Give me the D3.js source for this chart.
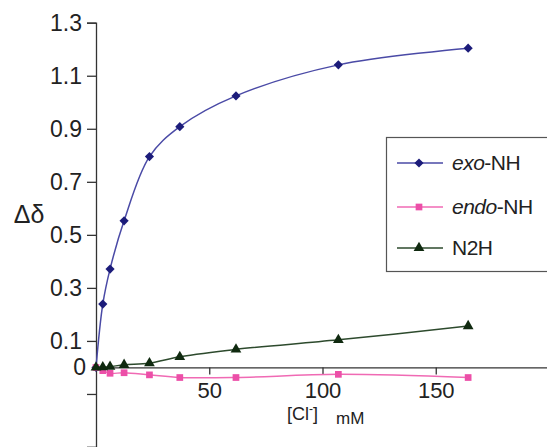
<!DOCTYPE html>
<html>
<head>
<meta charset="utf-8">
<script src="https://cdn.jsdelivr.net/npm/d3@7"></script>
<style>
body{margin:0;background:#fff;}
svg{display:block;font-family:"Liberation Sans",Arial,sans-serif;}
</style>
</head>
<body>
<div id="chart"></div>
<script>
var w=547;
var h=447;

// data
var conc=[0,3,6.2,12.4,23.6,37,61.8,107,164.3];
var exoNH=[0,0.239,0.371,0.553,0.795,0.908,1.024,1.141,1.204];
var endoNH=[0,-0.012,-0.022,-0.02,-0.028,-0.038,-0.038,-0.026,-0.038];
var n2h=[0,0.001,0.003,0.01,0.016,0.04,0.068,0.104,0.156];
var yTicks=[-0.3,-0.1,0.1,0.3,0.5,0.7,0.9,1.1,1.3];
var xTicks=[50,100,150];

var svg=d3.select("#chart")
  .append("svg")
  .attr("width",w)
  .attr("height",h);

var x=d3.scaleLinear().domain([0,200]).range([96,549]);
var y=d3.scaleLinear().domain([-0.3,1.3]).range([447,22.7]);

// y axis
var yAxis=d3.axisLeft(y)
  .tickValues(yTicks)
  .tickSize(9)
  .tickPadding(5)
  .tickFormat(function(d){return d>0?d3.format(".1f")(d):"";});
var gy=svg.append("g")
  .attr("transform","translate("+x(0)+",0)")
  .call(yAxis);
gy.select(".domain").attr("stroke","#333").attr("stroke-width",1.3);
gy.selectAll(".tick line").attr("stroke","#333").attr("stroke-width",1.3);
gy.selectAll(".tick text").attr("font-size",23).attr("fill","#222")
  .attr("font-family","Liberation Sans, Arial, sans-serif");

svg.append("text")
  .attr("x",86).attr("y",y(0)+8)
  .attr("text-anchor","end")
  .attr("font-size",23).attr("fill","#222")
  .text("0");

// x axis
var xAxis=d3.axisBottom(x)
  .tickValues(xTicks)
  .tickSize(7)
  .tickPadding(8)
  .tickSizeOuter(0);
var gx=svg.append("g")
  .attr("transform","translate(0,"+y(0)+")")
  .call(xAxis);
gx.select(".domain").attr("stroke","#333").attr("stroke-width",1.3);
gx.selectAll(".tick line").attr("stroke","#333").attr("stroke-width",1.3);
gx.selectAll(".tick text").attr("font-size",22).attr("fill","#222")
  .attr("font-family","Liberation Sans, Arial, sans-serif");

// axis titles
svg.append("text")
  .attr("x",29).attr("y",223)
  .attr("text-anchor","middle")
  .attr("font-size",25).attr("fill","#222")
  .text("\u0394\u03b4");

var xl=svg.append("text")
  .attr("x",287).attr("y",420)
  .attr("font-size",18).attr("fill","#222");
xl.append("tspan").text("[Cl");
xl.append("tspan").attr("dy",-7).attr("font-size",12).text("-");
xl.append("tspan").attr("dy",7).text("]");
svg.append("text")
  .attr("x",336).attr("y",424)
  .attr("font-size",17).attr("fill","#222")
  .text("mM");

// series
var diamond=d3.symbol().type(d3.symbolSquare).size(40);
var series=[
  {name:"exo",rest:"-NH",vals:exoNH,line:"#4a4aa6",mark:"#1c1c7a",shape:d3.symbolSquare,size:42,rot:45},
  {name:"endo",rest:"-NH",vals:endoNH,line:"#f06ab4",mark:"#ec4fa8",shape:d3.symbolSquare,size:45,rot:0},
  {name:"",rest:"N2H",vals:n2h,line:"#2d4a2d",mark:"#102a10",shape:d3.symbolTriangle,size:50,rot:0}
];

var line=d3.line()
  .x(function(d){return x(d[0]);})
  .y(function(d){return y(d[1]);})
  .curve(d3.curveCatmullRom.alpha(0.5));

series.forEach(function(s){
  var pts=conc.map(function(c,i){return [c,s.vals[i]];});
  svg.append("path")
    .datum(pts)
    .attr("d",line)
    .attr("fill","none")
    .attr("stroke",s.line)
    .attr("stroke-width",1.5);
  svg.selectAll(null)
    .data(pts)
    .enter()
    .append("path")
    .attr("d",d3.symbol().type(s.shape).size(s.size))
    .attr("transform",function(d){return "translate("+x(d[0])+","+y(d[1])+") rotate("+s.rot+")";})
    .attr("fill",s.mark);
});

// legend
var lg=svg.append("g");
lg.append("rect")
  .attr("x",386.5).attr("y",137.5)
  .attr("width",170).attr("height",134)
  .attr("fill","#fff")
  .attr("stroke","#555")
  .attr("stroke-width",1.2);
var ly=[163,207,248];
series.forEach(function(s,i){
  lg.append("line")
    .attr("x1",397).attr("x2",443)
    .attr("y1",ly[i]).attr("y2",ly[i])
    .attr("stroke",s.line).attr("stroke-width",1.5);
  lg.append("path")
    .attr("d",d3.symbol().type(s.shape).size(s.size))
    .attr("transform","translate(419,"+ly[i]+") rotate("+s.rot+")")
    .attr("fill",s.mark);
  var t=lg.append("text")
    .attr("x",452).attr("y",ly[i]+7)
    .attr("font-size",21).attr("fill","#222")
    .attr("letter-spacing",-0.5);
  if(s.name) t.append("tspan").attr("font-style","italic").text(s.name);
  t.append("tspan").text(s.rest);
});
</script>
</body>
</html>
